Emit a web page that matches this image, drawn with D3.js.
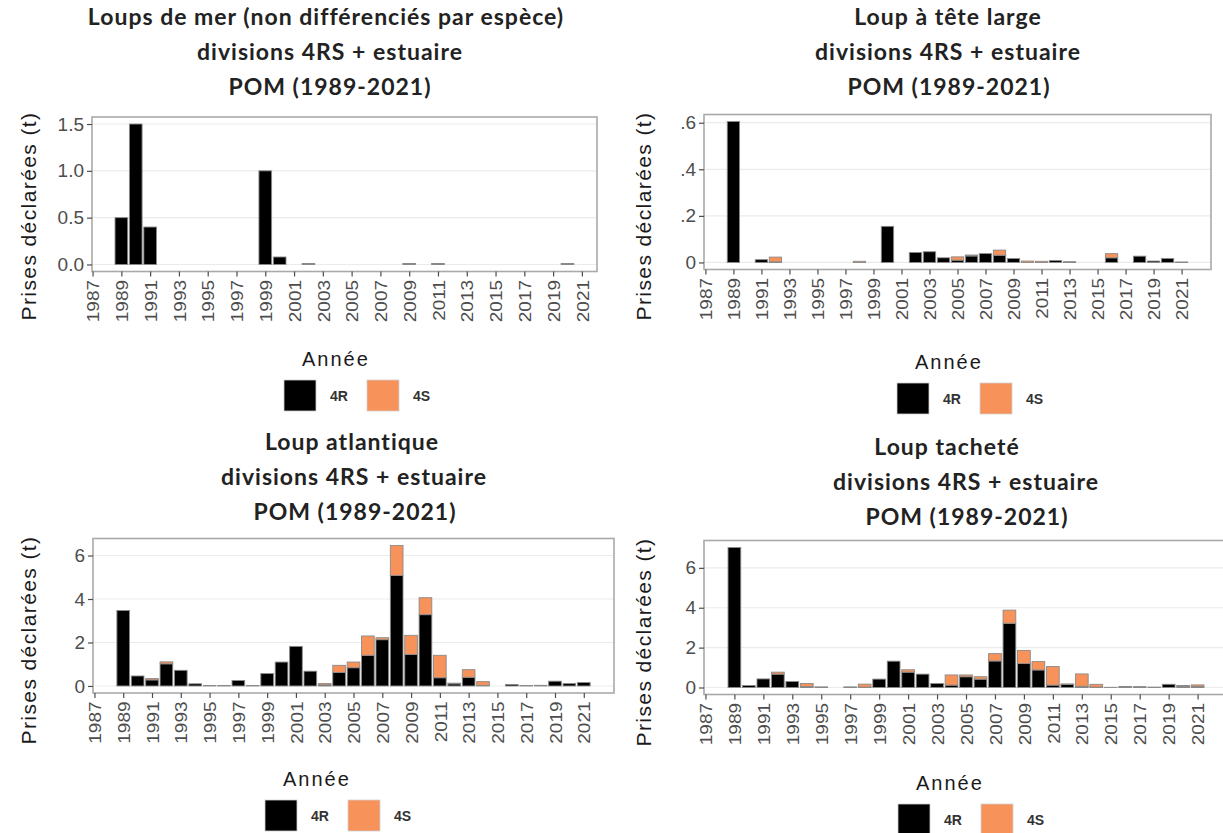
<!DOCTYPE html>
<html>
<head>
<meta charset="utf-8">
<script src="https://cdn.jsdelivr.net/npm/d3@7"></script>
<style>
  body { margin: 0; background: #ffffff; }
  svg { display: block; }
</style>
</head>
<body>
<svg id="fig" width="1223" height="833"></svg>
<script>
// ---- data -------------------------------------------------------------
const years = [1989, 1990, 1991, 1992, 1993, 1994, 1995, 1996, 1997, 1998,
               1999, 2000, 2001, 2002, 2003, 2004, 2005, 2006, 2007, 2008,
               2009, 2010, 2011, 2012, 2013, 2014, 2015, 2016, 2017, 2018,
               2019, 2020, 2021];
const tickYears = [1987, 1989, 1991, 1993, 1995, 1997, 1999, 2001, 2003, 2005,
                   2007, 2009, 2011, 2013, 2015, 2017, 2019, 2021];
const divisions = ["4R", "4S"];
const divisionColors = ["#000000", "#f7935a"];

// Loups de mer (non différenciés), tonnes
const mer4R = [0.5, 1.5, 0.4, 0, 0, 0, 0, 0, 0, 0,
               1.0, 0.08, 0, 0.01, 0, 0, 0, 0, 0, 0,
               0.01, 0, 0.01, 0, 0, 0, 0, 0, 0, 0,
               0, 0.01, 0];
const mer4S = [0, 0, 0, 0, 0, 0, 0, 0, 0, 0,
               0, 0, 0, 0, 0, 0, 0, 0, 0, 0,
               0, 0, 0, 0, 0, 0, 0, 0, 0, 0,
               0, 0, 0];

// Loup à tête large
const large4R = [0.605, 0, 0.012, 0.003, 0, 0, 0, 0, 0, 0,
                 0, 0.155, 0, 0.043, 0.046, 0.02, 0.01, 0.028, 0.038, 0.031,
                 0.017, 0, 0, 0.008, 0.003, 0, 0, 0.02, 0, 0.027,
                 0.006, 0.017, 0.002];
const large4S = [0, 0, 0, 0.02, 0, 0, 0, 0, 0, 0.005,
                 0, 0, 0, 0, 0, 0, 0.014, 0.004, 0, 0.022,
                 0, 0.006, 0.005, 0, 0, 0, 0, 0.018, 0, 0,
                 0, 0, 0];

// Loup atlantique
const atl4R = [3.47, 0.46, 0.28, 1.02, 0.72, 0.1, 0.02, 0.02, 0.25, 0.02,
               0.57, 1.1, 1.82, 0.68, 0.05, 0.62, 0.84, 1.41, 2.13, 5.08,
               1.45, 3.28, 0.38, 0.1, 0.4, 0.03, 0, 0.07, 0.02, 0.03,
               0.22, 0.11, 0.16];
const atl4S = [0, 0, 0.06, 0.09, 0, 0, 0, 0, 0, 0,
               0, 0, 0, 0, 0.06, 0.33, 0.26, 0.89, 0.09, 1.38,
               0.88, 0.78, 1.03, 0.03, 0.35, 0.17, 0, 0, 0, 0,
               0, 0, 0];

// Loup tacheté
const tach4R = [7.02, 0.1, 0.43, 0.67, 0.3, 0.05, 0.03, 0, 0.03, 0.02,
                0.42, 1.32, 0.77, 0.67, 0.2, 0.12, 0.54, 0.42, 1.33, 3.22,
                1.2, 0.88, 0.12, 0.15, 0.06, 0.02, 0.01, 0.05, 0.04, 0.02,
                0.16, 0.06, 0.05];
const tach4S = [0, 0, 0, 0.1, 0, 0.15, 0, 0, 0, 0.15,
                0, 0, 0.12, 0, 0, 0.51, 0.09, 0.12, 0.37, 0.66,
                0.66, 0.42, 0.93, 0.03, 0.62, 0.14, 0, 0, 0, 0,
                0, 0.04, 0.08];

const yTicksSmall = [0, 0.5, 1, 1.5];
const yLabelsSmall = ["0.0", "0.5", "1.0", "1.5"];
const yTicksLarge = [0, 0.2, 0.4, 0.6];
const yLabelsLarge = ["0", ".2", ".4", ".6"];
const yTicksBig = [0, 2, 4, 6];
const yLabelsBig = ["0", "2", "4", "6"];

const subtitle = "divisions 4RS + estuaire";
const period = "POM (1989-2021)";
const yTitle = "Prises déclarées (t)";
const legendTitle = "Année";

// ---- layout of the four panels ------------------------------------------
const panels = [
  { title: "Loups de mer (non différenciés par espèce)", r: mer4R, s: mer4S,
    yTicks: yTicksSmall, yLabels: yLabelsSmall,
    left: 92, right: 597, top: 117, bottom: 271.5,
    xDom: [1986.96, 2022.05],
    titleX: [326, 330, 330], titleY: 25, yTitleX: 29, yTitleY: 216,
    legX: 284, legY: 380 },
  { title: "Loup à tête large", r: large4R, s: large4S,
    yTicks: yTicksLarge, yLabels: yLabelsLarge,
    left: 704, right: 1211, top: 114.5, bottom: 269.5,
    xDom: [1986.9, 2023.1],
    titleX: [948, 948, 949], titleY: 25, yTitleX: 644, yTitleY: 216,
    legX: 897, legY: 383 },
  { title: "Loup atlantique", r: atl4R, s: atl4S,
    yTicks: yTicksBig, yLabels: yLabelsBig,
    left: 93, right: 614, top: 538.5, bottom: 693,
    xDom: [1986.9, 2023.1],
    titleX: [352, 354, 355], titleY: 450, yTitleX: 29, yTitleY: 640,
    legX: 265, legY: 800 },
  { title: "Loup tacheté", r: tach4R, s: tach4S,
    yTicks: yTicksBig, yLabels: yLabelsBig,
    left: 704, right: 1228, top: 540.5, bottom: 694.5,
    xDom: [1986.9, 2023.1],
    titleX: [947, 966, 967], titleY: 455, yTitleX: 644, yTitleY: 642,
    legX: 898, legY: 804 }
];

const svg = d3.select("#fig");
svg.append("rect").attr("width", 1223).attr("height", 833).attr("fill", "#ffffff");

function drawPanel(p) {
  const g = svg.append("g");
  const rows = years.map((yr, i) => ({ year: yr, "4R": p.r[i], "4S": p.s[i] }));
  const total = d3.max(rows, d => d["4R"] + d["4S"]);
  const pad = total * 0.05;

  const x = d3.scaleLinear().domain(p.xDom).range([p.left, p.right]);
  const y = d3.scaleLinear().domain([-pad, total + pad]).range([p.bottom, p.top]);

  // horizontal grid
  g.append("g").selectAll("line").data(p.yTicks).join("line")
    .attr("x1", p.left).attr("x2", p.right)
    .attr("y1", d => y(d)).attr("y2", d => y(d))
    .attr("stroke", "#ebebeb").attr("stroke-width", 1.2);

  // stacked bars
  const stacked = d3.stack().keys(divisions)(rows);
  const bw = 0.88;
  g.append("g").selectAll("g").data(stacked).join("g")
    .attr("fill", (d, i) => divisionColors[i])
    .selectAll("rect").data(d => d.filter(v => v[1] - v[0] > 0)).join("rect")
    .attr("x", d => x(d.data.year - bw / 2))
    .attr("width", d => x(d.data.year + bw / 2) - x(d.data.year - bw / 2))
    .attr("y", d => y(d[1]))
    .attr("height", d => Math.max(0, y(d[0]) - y(d[1])))
    .attr("stroke", "#8a8a8a").attr("stroke-width", 0.9);

  // panel border
  g.append("rect")
    .attr("x", p.left).attr("y", p.top)
    .attr("width", p.right - p.left).attr("height", p.bottom - p.top)
    .attr("fill", "none").attr("stroke", "#a9a9a9").attr("stroke-width", 1.6);

  // x axis, labels turned vertical
  const xa = g.append("g").attr("transform", `translate(0,${p.bottom})`)
    .call(d3.axisBottom(x).tickValues(tickYears).tickFormat(d3.format("d"))
      .tickSize(5).tickSizeOuter(0));
  xa.select(".domain").remove();
  xa.selectAll(".tick line").attr("stroke", "#4d4d4d").attr("stroke-width", 1.2);
  xa.selectAll(".tick text")
    .attr("transform", "rotate(-90) scale(1,0.9)")
    .attr("text-anchor", "end")
    .attr("x", -8.5).attr("y", 0).attr("dy", "0.36em")
    .attr("fill", "#4d4d4d")
    .style("font-family", "'Liberation Sans', Arial, sans-serif")
    .style("font-size", "19px");

  // y axis
  const ya = g.append("g").attr("transform", `translate(${p.left},0)`)
    .call(d3.axisLeft(y).tickValues(p.yTicks)
      .tickFormat((d, i) => p.yLabels[i]).tickSize(5).tickSizeOuter(0));
  ya.select(".domain").remove();
  ya.selectAll(".tick line").attr("stroke", "#4d4d4d").attr("stroke-width", 1.2);
  ya.selectAll(".tick text")
    .attr("x", -8)
    .attr("fill", "#4d4d4d")
    .style("font-family", "'Liberation Sans', Arial, sans-serif")
    .style("font-size", "19px");

  // y title
  g.append("text")
    .attr("transform", `translate(${p.yTitleX},${p.yTitleY}) rotate(-90)`)
    .attr("text-anchor", "middle").attr("dy", "0.35em")
    .attr("fill", "#1a1a1a")
    .style("font-family", "'Liberation Sans', Arial, sans-serif")
    .style("font-size", "21px").style("letter-spacing", "1.4px")
    .text(yTitle);

  // title (three lines)
  const t = g.append("text")
    .attr("text-anchor", "middle").attr("fill", "#222222")
    .style("font-family", "Lato, 'Open Sans', sans-serif")
    .style("font-weight", "bold").style("font-size", "23px")
    .style("letter-spacing", "1px");
  [p.title, subtitle, period].forEach((line, i) => {
    t.append("tspan").attr("x", p.titleX[i]).attr("y", p.titleY + i * 35).text(line);
  });

  // legend
  const lg = g.append("g").attr("transform", `translate(${p.legX},${p.legY})`);
  lg.append("text").attr("x", 18).attr("y", -14)
    .attr("fill", "#1a1a1a")
    .style("font-family", "'Liberation Sans', Arial, sans-serif")
    .style("font-size", "20px").style("letter-spacing", "2px")
    .text(legendTitle);
  divisions.forEach((dv, i) => {
    const ox = i * 83;
    lg.append("rect").attr("x", ox).attr("y", 0).attr("width", 32).attr("height", 31)
      .attr("fill", divisionColors[i]).attr("stroke", "#d0d0d0").attr("stroke-width", 0.8);
    lg.append("text").attr("x", ox + 46).attr("y", 16).attr("dy", "0.35em")
      .attr("fill", "#333333")
      .style("font-family", "'Liberation Sans', Arial, sans-serif")
      .style("font-size", "14px").style("font-weight", "bold")
      .text(dv);
  });
}

panels.forEach(drawPanel);
</script>
</body>
</html>
